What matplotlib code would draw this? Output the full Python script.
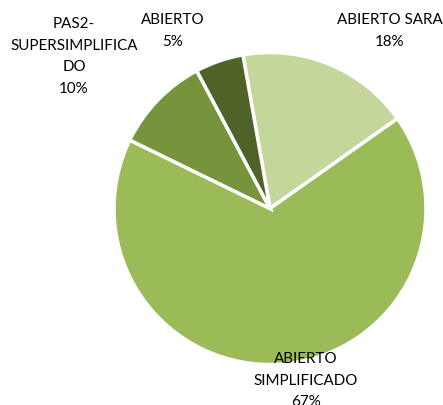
import matplotlib
matplotlib.use("Agg")
import matplotlib.pyplot as plt

categories = ["ABIERTO SARA", "ABIERTO SIMPLIFICADO", "PAS2-SUPERSIMPLIFICADO", "ABIERTO"]
values = [18, 67, 10, 5]
colors = ["#C4D79B", "#9BBB59", "#77933C", "#4F6228"]

# label lines and pixel positions (x, y from top)
label_lines = [
    ["ABIERTO SARA", "18%"],
    ["ABIERTO", "SIMPLIFICADO", "67%"],
    ["PAS2-", "SUPERSIMPLIFICA", "DO", "10%"],
    ["ABIERTO", "5%"],
]
label_pos = [(390, 20), (306, 359), (74, 24), (173, 20)]
line_gap = 21.7

W, H = 443, 406
fig = plt.figure(figsize=(W / 100, H / 100), dpi=100)
ax = fig.add_axes([0, 0, 1, 1])
ax.pie(values, colors=colors, startangle=100, counterclock=False,
       center=(270, H - 209.5), radius=156,
       wedgeprops=dict(edgecolor="white", linewidth=2.5))
ax.set_xlim(0, W)
ax.set_ylim(0, H)
ax.set_aspect("equal")
ax.axis("off")

for lines, (x, y) in zip(label_lines, label_pos):
    for i, t in enumerate(lines):
        ax.text(x, H - (y + i * line_gap), t, ha="center", va="center",
                fontsize=10.9, family=["Lato", "DejaVu Sans"], color="#000000")

fig.savefig("out.png", dpi=100, facecolor="white")
